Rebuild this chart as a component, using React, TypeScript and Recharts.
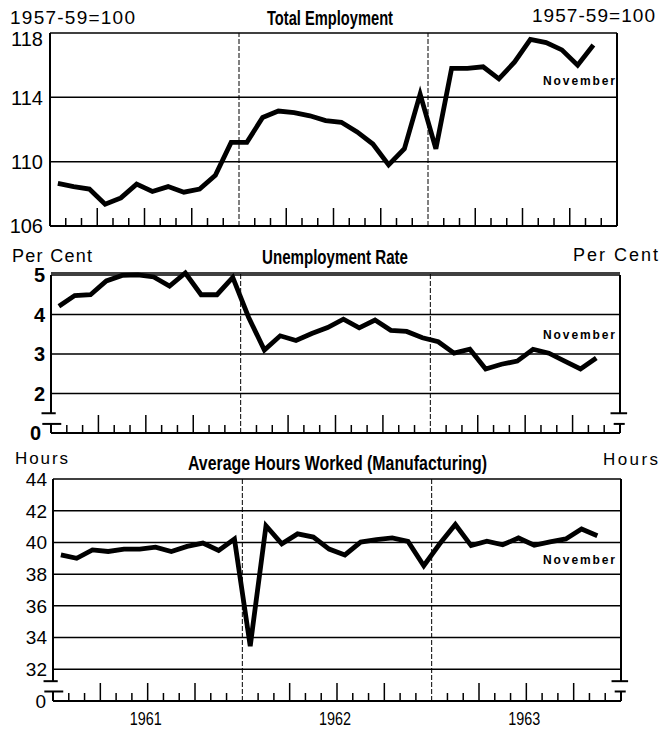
import React from 'react';
import { LineChart, Line, XAxis, YAxis, CartesianGrid, ReferenceLine, ReferenceDot } from 'recharts';

const months = [
  'Jan 1961', 'Feb 1961', 'Mar 1961', 'Apr 1961', 'May 1961', 'Jun 1961',
  'Jul 1961', 'Aug 1961', 'Sep 1961', 'Oct 1961', 'Nov 1961', 'Dec 1961',
  'Jan 1962', 'Feb 1962', 'Mar 1962', 'Apr 1962', 'May 1962', 'Jun 1962',
  'Jul 1962', 'Aug 1962', 'Sep 1962', 'Oct 1962', 'Nov 1962', 'Dec 1962',
  'Jan 1963', 'Feb 1963', 'Mar 1963', 'Apr 1963', 'May 1963', 'Jun 1963',
  'Jul 1963', 'Aug 1963', 'Sep 1963', 'Oct 1963', 'Nov 1963',
];

// Total Employment, 1957-59=100
const employment = [
  108.65, 108.45, 108.3, 107.35, 107.75, 108.6, 108.15, 108.45, 108.1, 108.3, 109.15, 111.2,
  111.2, 112.75, 113.15, 113.05, 112.85, 112.55, 112.45, 111.85, 111.1, 109.8, 110.8, 114.2,
  110.8, 115.8, 115.8, 115.9, 115.15, 116.2, 117.6, 117.4, 116.95, 116.0, 117.25,
];

// Unemployment Rate, per cent
const unemployment = [
  4.21, 4.48, 4.5, 4.85, 4.99, 5.0, 4.95, 4.72, 5.05, 4.5, 4.5, 4.94,
  3.93, 3.1, 3.46, 3.34, 3.52, 3.67, 3.88, 3.66, 3.86, 3.6, 3.57, 3.41,
  3.31, 3.02, 3.12, 2.62, 2.74, 2.82, 3.12, 3.02, 2.82, 2.62, 2.9,
];

// Average Hours Worked (Manufacturing)
const hours = [
  39.22, 39.0, 39.53, 39.43, 39.58, 39.58, 39.7, 39.43, 39.75, 39.96, 39.49, 40.21,
  33.46, 41.05, 39.91, 40.54, 40.34, 39.58, 39.21, 40.02, 40.17, 40.28, 40.06, 38.53,
  39.9, 41.13, 39.8, 40.08, 39.85, 40.28, 39.82, 40.04, 40.22, 40.85, 40.42,
];

const yearLabels = ['1961', '1962', '1963'];
const employmentTicks = [106, 110, 114, 118];
const unemploymentTicks = [1, 2, 3, 4, 5]; // 1 = broken-axis baseline labelled "0"
const hoursTicks = [30, 32, 34, 36, 38, 40, 42, 44]; // 30 = broken-axis baseline labelled "0"
const monthTicks = [1, 2, 3, 4, 5, 6, 7, 8, 9, 10, 11, 13, 14, 15, 16, 17, 18, 19, 20, 21, 22, 23, 25, 26, 27, 28, 29, 30, 31, 32, 33, 34, 35];
const yearBoundaries = [12, 24];

const FONT = '"Liberation Sans", Arial, sans-serif';

const toRows = (values: number[]) => months.map((m, i) => ({ month: m, x: i + 0.5, v: values[i] }));

const MonthTick = (props: any) => {
  const { x, y, payload, showYears } = props;
  const v = payload.value;
  const tall = v % 3 === 0;
  const len = tall ? 18 : 8;
  const yi = (v - 6) / 12;
  return (
    <g>
      <line x1={x} x2={x} y1={y} y2={y - len} stroke="#000" strokeWidth={1.5} />
      {showYears && v % 12 === 6 && (
        <text x={x - 2} y={y + 24} textAnchor="middle" fontFamily={FONT} fontSize={18} fill="#000"
          textLength={32} lengthAdjust="spacingAndGlyphs">{yearLabels[yi]}</text>
      )}
    </g>
  );
};

const YTick = (props: any) => {
  const { x, y, payload, side, zeroValue, zeroDx, topValue, topDy, weight, size } = props;
  const v = payload.value;
  const isZero = zeroValue !== undefined && v === zeroValue;
  const label = isZero ? '0' : String(v);
  const dx = isZero ? (zeroDx || 0) : 0;
  const dy = topValue !== undefined && v === topValue ? (topDy || 0) : 0;
  return (
    <text x={x + dx} y={y + dy} dy="0.36em" textAnchor={side === 'left' ? 'end' : 'start'}
      fontFamily={FONT} fontSize={size || 20} fontWeight={weight || 400} fill="#000">{label}</text>
  );
};

type PanelProps = {
  top: number;
  height: number;
  values: number[];
  domain: [number, number];
  ticks: number[];
  marginTop: number;
  leftW: number;
  rightW: number;
  xAxisH: number;
  broken?: { hi: number; lo: number };
  noteY: number;
  noteDx: number;
  showYears?: boolean;
  weight?: number;
  tickSize?: number;
  leftMargin: number;
  rightMargin: number;
  zeroDxLeft?: number;
  zeroDxRight?: number;
  topDyLeft?: number;
};

const Panel = (p: PanelProps) => {
  const data = toRows(p.values);
  const [lo, hi] = p.domain;
  const axisLine = p.broken ? false : { stroke: '#000', strokeWidth: 2 };
  const seg = (x1: number, y1: number, x2: number, y2: number, k: string) => (
    <ReferenceLine key={k} segment={[{ x: x1, y: y1 }, { x: x2, y: y2 }]} stroke="#000" strokeWidth={2} ifOverflow="visible" />
  );
  return (
    <div style={{ position: 'absolute', left: 0, top: p.top }}>
      <LineChart width={659} height={p.height} data={data} margin={{ top: p.marginTop, right: 0, bottom: 0, left: 0 }}>
        <CartesianGrid vertical={false} stroke="#000" strokeWidth={1.5} />
        <XAxis dataKey="x" type="number" domain={[0, 36]} ticks={monthTicks} interval={0} height={p.xAxisH}
          axisLine={{ stroke: '#000', strokeWidth: 2 }} tickLine={false} tickSize={0} tickMargin={0}
          tick={<MonthTick showYears={p.showYears} />} />
        <YAxis type="number" domain={p.domain} ticks={p.ticks} interval={0} width={p.leftW}
          axisLine={axisLine} tickLine={false} tickSize={0} tickMargin={p.leftMargin}
          tick={<YTick side="left" size={p.tickSize} weight={p.weight} zeroValue={p.broken ? lo : undefined} zeroDx={p.zeroDxLeft} topValue={hi} topDy={p.topDyLeft} />} />
        <YAxis yAxisId="r" orientation="right" type="number" domain={p.domain} ticks={p.ticks} interval={0} width={p.rightW}
          axisLine={axisLine} tickLine={false} tickSize={0} tickMargin={p.rightMargin}
          tick={<YTick side="right" size={p.tickSize} weight={p.weight} zeroValue={p.broken ? lo : undefined} zeroDx={p.zeroDxRight} />} />
        {yearBoundaries.map((b) => (
          <ReferenceLine key={'yb' + b} x={b} stroke="#000" strokeWidth={1} strokeDasharray="5 2" />
        ))}
        {p.broken && [
          seg(0, p.broken.hi, 0, hi, 'l1'),
          seg(-0.6, p.broken.hi, 0.3, p.broken.hi, 'l2'),
          seg(-0.55, p.broken.lo, 0.65, p.broken.lo, 'l3'),
          seg(0, lo, 0, p.broken.lo, 'l4'),
          seg(36, p.broken.hi, 36, hi, 'r1'),
          seg(35.4, p.broken.hi, 36.45, p.broken.hi, 'r2'),
          seg(35.6, p.broken.lo, 36.3, p.broken.lo, 'r3'),
          seg(36, lo, 36, p.broken.lo, 'r4'),
        ]}
        <Line type="linear" dataKey="v" stroke="#000" strokeWidth={4.8} dot={false} isAnimationActive={false} />
        <ReferenceDot x={36} y={p.noteY} r={1} ifOverflow="visible"
          shape={(s: any) => (
            <text x={s.cx - p.noteDx} y={s.cy + 4} textAnchor="end" fontFamily={FONT} fontSize={12} fontWeight={700}
              fill="#000" textLength={72} lengthAdjust="spacing">November</text>
          )} />
      </LineChart>
    </div>
  );
};

const T = (props: { x: number; y: number; w: number; size: number; bold?: boolean; glyphs?: boolean; children: string }) => (
  <text x={props.x} y={props.y} fontFamily={FONT} fontSize={props.size} fontWeight={props.bold ? 700 : 400} fill="#000"
    textLength={props.w} lengthAdjust={props.glyphs ? 'spacingAndGlyphs' : 'spacing'}>{props.children}</text>
);

export default function App() {
  return (
    <div style={{ position: 'absolute', left: 0, top: 0, width: 659, height: 731, background: '#fff', overflow: 'hidden' }}>
      <Panel top={0} height={245} values={employment} domain={[106, 118]} ticks={employmentTicks}
        marginTop={33} leftW={50} rightW={42} xAxisH={19} noteY={115} noteDx={2}
        leftMargin={7} rightMargin={9} topDyLeft={6} />
      <Panel top={240} height={210} values={unemployment} domain={[1, 5]} ticks={unemploymentTicks}
        marginTop={33} leftW={51} rightW={39} xAxisH={17} broken={{ hi: 1.5, lo: 1.23 }} noteY={3.47} noteDx={5}
        leftMargin={6} rightMargin={7} weight={700} zeroDxLeft={-4} zeroDxRight={1} />
      <Panel top={445} height={286} values={hours} domain={[30, 44]} ticks={hoursTicks}
        marginTop={34} leftW={53} rightW={38} xAxisH={30} broken={{ hi: 31.25, lo: 30.6 }} noteY={38.9} noteDx={6}
        leftMargin={6} rightMargin={6} tickSize={19} showYears zeroDxLeft={-1} zeroDxRight={18} />
      <svg width={659} height={731} style={{ position: 'absolute', left: 0, top: 0, pointerEvents: 'none' }}>
        <T x={10} y={24} w={125} size={19}>1957-59=100</T>
        <T x={267} y={25} w={126} size={21} bold glyphs>Total Employment</T>
        <T x={532} y={22} w={123} size={19}>1957-59=100</T>
        <T x={12} y={262} w={80} size={18}>Per Cent</T>
        <T x={262} y={264} w={146} size={20} bold glyphs>Unemployment Rate</T>
        <T x={573} y={261} w={85} size={18}>Per Cent</T>
        <T x={15} y={464} w={53} size={17}>Hours</T>
        <T x={188} y={470} w={299} size={20} bold glyphs>Average Hours Worked (Manufacturing)</T>
        <T x={603} y={465} w={55} size={17}>Hours</T>
      </svg>
    </div>
  );
}
